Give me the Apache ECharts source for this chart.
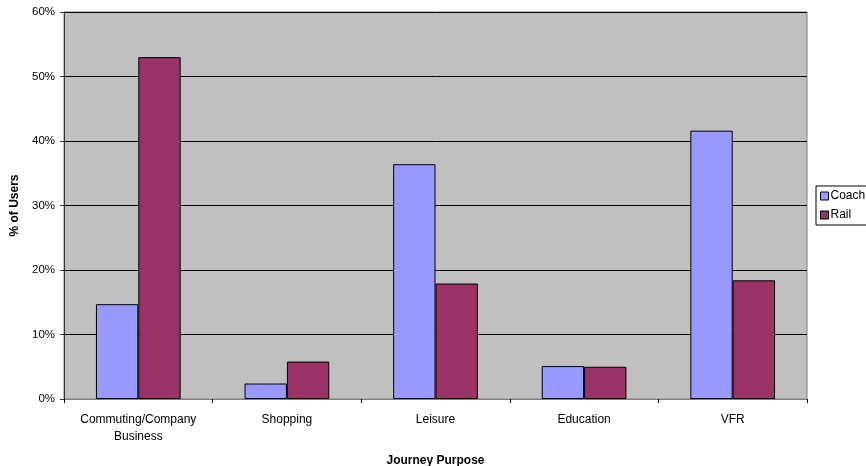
<!DOCTYPE html>
<html>
<head>
<meta charset="utf-8">
<script src="https://cdn.jsdelivr.net/npm/echarts@6/dist/echarts.min.js"></script>
<style>
html,body{margin:0;padding:0;background:#fff;}
#chart{width:866px;height:466px;}
</style>
</head>
<body>
<div id="chart"></div>
<script>
const categories = ['Commuting/Company\nBusiness', 'Shopping', 'Leisure', 'Education', 'VFR'];
const coachValues = [14.7, 2.4, 36.4, 5.1, 41.6];
const railValues = [53.0, 5.8, 17.9, 5.0, 18.4];
const seriesNames = ['Coach', 'Rail'];
const yTicks = { min: 0, max: 60, interval: 10 };

const FONT = '"Liberation Sans", Arial, sans-serif';
const chart = echarts.init(document.getElementById('chart'), null, { renderer: 'canvas' });
chart.setOption({
  animation: false,
  backgroundColor: '#ffffff',
  textStyle: { fontFamily: FONT },
  grid: {
    left: 64, right: 59, top: 12, bottom: 67,
    containLabel: false,
    outerBoundsMode: 'none',
    show: true, backgroundColor: '#C0C0C0', borderColor: '#808080', borderWidth: 1
  },
  legend: {
    orient: 'vertical',
    left: 816, top: 186,
    padding: [4, 12, 4, 4],
    itemGap: 7,
    itemWidth: 8, itemHeight: 8,
    icon: 'rect',
    borderColor: '#000', borderWidth: 1,
    backgroundColor: '#fff',
    textStyle: { fontFamily: FONT, fontSize: 12, color: '#000', padding: [0, 0, 0, -3] },
    data: seriesNames.map(n => ({ name: n, itemStyle: { borderColor: '#000', borderWidth: 1 } }))
  },
  xAxis: {
    type: 'category',
    data: categories,
    name: 'Journey Purpose',
    nameLocation: 'middle',
    nameGap: 56,
    nameTextStyle: { fontFamily: FONT, fontSize: 12, fontWeight: 'bold', color: '#000' },
    axisLine: { lineStyle: { color: '#808080', width: 1 } },
    axisTick: { show: true, alignWithLabel: false, length: 4, lineStyle: { color: '#000' } },
    axisLabel: { fontFamily: FONT, fontSize: 12, color: '#000', margin: 12, lineHeight: 17, interval: 0 },
    splitLine: { show: false }
  },
  yAxis: {
    type: 'value',
    min: yTicks.min, max: yTicks.max, interval: yTicks.interval,
    name: '% of Users',
    nameLocation: 'middle',
    nameGap: 40,
    nameTextStyle: { fontFamily: FONT, fontSize: 12, fontWeight: 'bold', color: '#000' },
    axisLine: { show: true, lineStyle: { color: '#333', width: 1 } },
    axisTick: { show: true, length: 4, lineStyle: { color: '#333' } },
    axisLabel: { fontFamily: FONT, fontSize: 11.5, color: '#000', margin: 9, formatter: '{value}%' },
    splitLine: { show: true, lineStyle: { color: '#000', width: 1 } }
  },
  series: [
    {
      name: seriesNames[0], type: 'bar', data: coachValues,
      barGap: '0%', barCategoryGap: '43%',
      itemStyle: { color: '#9999FF', borderColor: '#000', borderWidth: 1 }
    },
    {
      name: seriesNames[1], type: 'bar', data: railValues,
      barGap: '0%', barCategoryGap: '43%',
      itemStyle: { color: '#993366', borderColor: '#000', borderWidth: 1 }
    }
  ]
});
</script>
</body>
</html>
